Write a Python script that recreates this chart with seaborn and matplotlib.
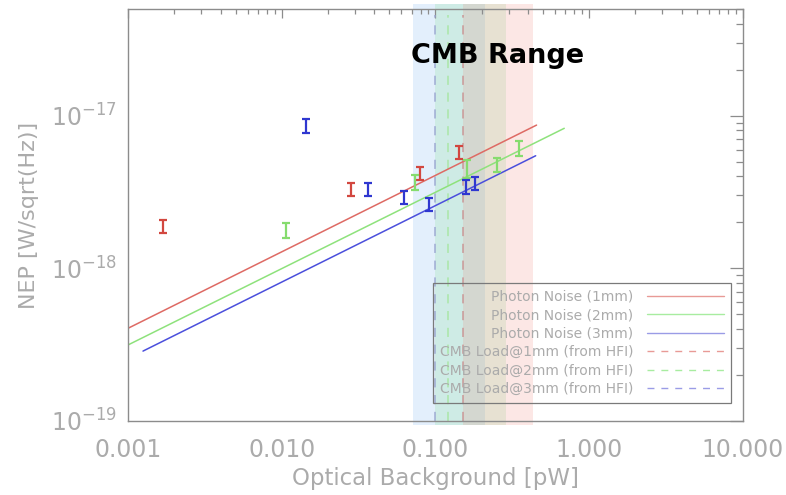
import numpy as np
import pandas as pd
import seaborn as sns
import matplotlib
matplotlib.use("Agg")
import matplotlib.pyplot as plt
from matplotlib.lines import Line2D
from matplotlib.ticker import LogLocator, FixedLocator, FixedFormatter, NullFormatter

# Photon-noise curves (straight on log-log axes): end points per band
noise_bands = ["1mm", "2mm", "3mm"]
noise_x_start = [0.001, 0.001, 0.00125]
noise_x_end = [0.455, 0.689, 0.449]
noise_y_start = [4.05e-19, 3.15e-19, 2.87e-19]
noise_y_end = [8.67e-18, 8.26e-18, 5.46e-18]

# Measured NEP with error bars
meas_1mm_x = [0.00168, 0.0282, 0.0792, 0.142]
meas_1mm_y = [1.89e-18, 3.29e-18, 4.19e-18, 5.75e-18]
meas_1mm_err = [0.19e-18, 0.33e-18, 0.42e-18, 0.58e-18]

meas_2mm_x = [0.0106, 0.0736, 0.160, 0.250, 0.349]
meas_2mm_y = [1.78e-18, 3.66e-18, 4.52e-18, 4.80e-18, 6.16e-18]
meas_2mm_err = [0.20e-18, 0.40e-18, 0.62e-18, 0.50e-18, 0.70e-18]

meas_3mm_x = [0.0143, 0.0362, 0.0624, 0.0912, 0.158, 0.180]
meas_3mm_y = [8.59e-18, 3.29e-18, 2.92e-18, 2.64e-18, 3.42e-18, 3.60e-18]
meas_3mm_err = [0.85e-18, 0.33e-18, 0.29e-18, 0.26e-18, 0.36e-18, 0.36e-18]

# CMB load per band (from HFI) and the loading ranges shaded behind
cmb_load = [0.15, 0.12, 0.10]
range_low = [0.15, 0.10, 0.071]
range_high = [0.433, 0.29, 0.21]

x_ticks = [0.001, 0.01, 0.1, 1.0, 10.0]
x_tick_labels = ["0.001", "0.010", "0.100", "1.000", "10.000"]
y_ticks = [1e-19, 1e-18, 1e-17]
y_tick_labels = [r"$10^{-19}$", r"$10^{-18}$", r"$10^{-17}$"]

line_colors = {"1mm": "#de6a64", "2mm": "#8ee27c", "3mm": "#4b4fdc"}
err_colors = {"1mm": "#d2473f", "2mm": "#86dc6e", "3mm": "#2f37d0"}
dash_colors = {"1mm": "#c99090", "2mm": "#a6e6a0", "3mm": "#98a4d0"}
legend_line_colors = {"1mm": "#e89a96", "2mm": "#a8eca0", "3mm": "#9a9ce6"}
band_colors = {"1mm": "#f08278", "2mm": "#78dc82", "3mm": "#6eaaf0"}

sns.set_style("white")
plt.rcParams["font.family"] = ["DejaVu Sans"]
plt.rcParams["mathtext.fontset"] = "dejavusans"
plt.rcParams["axes.unicode_minus"] = True

gray_text = "#ababab"
spine_gray = "#8c8c8c"

fig = plt.figure(figsize=(7.86, 4.95), dpi=100)
ax = fig.add_axes([0.163, 0.1495, 0.782, 0.8325])

# Shaded CMB loading ranges (blue drawn first, red last)
for band, lo, hi in zip(noise_bands[::-1], range_low[::-1], range_high[::-1]):
    ax.axvspan(lo, hi, ymin=-0.01, ymax=1.012, color=band_colors[band],
               alpha=0.19, lw=0, zorder=0.5, clip_on=False)

# Photon-noise lines drawn through seaborn
noise_df = pd.DataFrame({
    "band": [b for b in noise_bands for _ in range(2)],
    "P": [v for pair in zip(noise_x_start, noise_x_end) for v in pair],
    "NEP": [v for pair in zip(noise_y_start, noise_y_end) for v in pair],
})
sns.lineplot(data=noise_df, x="P", y="NEP", hue="band", palette=line_colors,
             linewidth=1.1, legend=False, ax=ax, zorder=2, estimator=None,
             sort=False)

# Vertical CMB-load markers
for band, load in zip(noise_bands, cmb_load):
    ax.axvline(load, ymin=0.0, ymax=0.985, color=dash_colors[band], lw=1.1,
               ls=(0, (6, 5)), zorder=1.5, alpha=0.9)

# Measurements
for band, xs, ys, es in [("1mm", meas_1mm_x, meas_1mm_y, meas_1mm_err),
                         ("2mm", meas_2mm_x, meas_2mm_y, meas_2mm_err),
                         ("3mm", meas_3mm_x, meas_3mm_y, meas_3mm_err)]:
    ax.errorbar(xs, ys, yerr=es, fmt="none", ecolor=err_colors[band],
                elinewidth=1.6, capsize=3.2, capthick=1.6, zorder=3)

ax.set_xscale("log")
ax.set_yscale("log")
ax.set_xlim(0.001, 10)
ax.set_ylim(1e-19, 5e-17)

ax.xaxis.set_major_locator(FixedLocator(x_ticks))
ax.xaxis.set_major_formatter(FixedFormatter(x_tick_labels))
ax.xaxis.set_minor_locator(LogLocator(base=10, subs=np.arange(2, 10), numticks=20))
ax.xaxis.set_minor_formatter(NullFormatter())
ax.yaxis.set_major_locator(FixedLocator(y_ticks))
ax.yaxis.set_major_formatter(FixedFormatter(y_tick_labels))
ax.yaxis.set_minor_locator(LogLocator(base=10, subs=np.arange(2, 10), numticks=20))
ax.yaxis.set_minor_formatter(NullFormatter())

ax.tick_params(axis="both", which="both", direction="in", top=True, right=True,
               color=spine_gray, width=0.9)
ax.tick_params(axis="x", which="major", length=6.5, labelsize=17,
               labelcolor=gray_text, pad=12)
ax.tick_params(axis="x", which="minor", length=3.5)
ax.tick_params(axis="y", which="major", length=9.5, labelsize=17,
               labelcolor=gray_text, pad=8)
ax.tick_params(axis="y", which="minor", length=5)

for s in ax.spines.values():
    s.set_color(spine_gray)
    s.set_linewidth(1.0)
    s.set_zorder(4)

ax.set_xlabel("Optical Background [pW]", fontsize=16.5, color=gray_text,
              labelpad=4)
ax.set_ylabel("NEP [W/sqrt(Hz)]", fontsize=16, color=gray_text,
              labelpad=9)

ax.text(0.460, 0.869, "CMB Range", transform=ax.transAxes, ha="left",
        va="baseline", fontsize=19.5, fontweight="bold", color="black",
        zorder=5)

# Legend: labels to the left of their line samples
handles = [Line2D([], [], color=legend_line_colors[b], lw=1.0) for b in noise_bands]
handles += [Line2D([], [], color=legend_line_colors[b], lw=1.0, ls=(0, (5, 5)))
            for b in noise_bands]
labels = [f"Photon Noise ({b})" for b in noise_bands]
labels += [f"CMB Load@{b} (from HFI)" for b in noise_bands]
leg = ax.legend(handles, labels, loc="lower right",
                bbox_to_anchor=(0.9805, 0.0437), borderaxespad=0,
                markerfirst=False, fontsize=10, handlelength=5.5,
                handletextpad=1.0, labelspacing=0.32, borderpad=0.5,
                frameon=True, fancybox=False)
frame = leg.get_frame()
frame.set_alpha(None)
frame.set_facecolor((1, 1, 1, 0))
frame.set_edgecolor("#7a7a7a")
frame.set_linewidth(0.9)
for t in leg.get_texts():
    t.set_color(gray_text)

fig.savefig("out.png", dpi=100)
